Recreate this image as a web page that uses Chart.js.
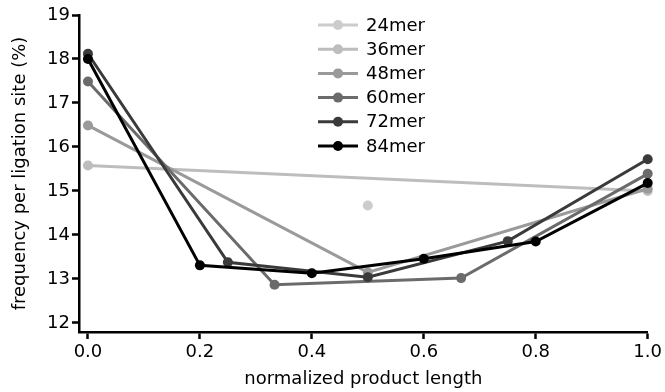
<!doctype html>
<html>

<head>
	<title>frequency per ligation site</title>
	<script src="https://cdn.jsdelivr.net/npm/chart.js@4"></script>
	<style>
		html, body { margin: 0; padding: 0; background: #fff; }
	</style>
</head>

<body>
	<canvas id="chart-area" width="665" height="392"></canvas>

	<script>
		// series
		var seriesNames = ['24mer', '36mer', '48mer', '60mer', '72mer', '84mer'];
		var seriesColors = ['#cccccc', '#bdbdbd', '#9a9a9a', '#6b6b6b', '#3a3a3a', '#000000'];
		var xs24 = [0.5];
		var ys24 = [14.67];
		var xs36 = [0, 1];
		var ys36 = [15.58, 15.0];
		var xs48 = [0, 0.5, 1];
		var ys48 = [16.49, 13.15, 15.05];
		var xs60 = [0, 1 / 3, 2 / 3, 1];
		var ys60 = [17.49, 12.87, 13.02, 15.39];
		var xs72 = [0, 0.25, 0.5, 0.75, 1];
		var ys72 = [18.12, 13.38, 13.04, 13.86, 15.72];
		var xs84 = [0, 0.2, 0.4, 0.6, 0.8, 1];
		var ys84 = [18.0, 13.31, 13.13, 13.46, 13.85, 15.18];
		var xTicks = [0, 0.2, 0.4, 0.6, 0.8, 1.0];
		var yTicks = [12, 13, 14, 15, 16, 17, 18, 19];

		var allX = [xs24, xs36, xs48, xs60, xs72, xs84];
		var allY = [ys24, ys36, ys48, ys60, ys72, ys84];

		var datasets = seriesNames.map(function(name, i) {
			return {
				label: name,
				data: allX[i].map(function(x, j) { return { x: x, y: allY[i][j] }; }),
				borderColor: seriesColors[i],
				backgroundColor: seriesColors[i],
				borderWidth: 3,
				pointRadius: 5,
				pointHoverRadius: 5,
				pointBorderWidth: 0,
				order: seriesNames.length - i,
				clip: false
			};
		});

		var fontFamily = '"DejaVu Sans", sans-serif';
		var font = { family: fontFamily, size: 18 };

		// legend drawn inside the plot area, line + dot samples
		var insideLegend = {
			id: 'insideLegend',
			afterDraw: function(chart) {
				var ctx = chart.ctx;
				ctx.save();
				ctx.font = '18px ' + fontFamily;
				ctx.textBaseline = 'middle';
				chart.data.datasets.forEach(function(ds, i) {
					var y = 25 + i * 24.2;
					ctx.strokeStyle = ds.borderColor;
					ctx.fillStyle = ds.borderColor;
					ctx.lineWidth = 3;
					ctx.beginPath();
					ctx.moveTo(318, y);
					ctx.lineTo(358, y);
					ctx.stroke();
					ctx.beginPath();
					ctx.arc(338, y, 5, 0, Math.PI * 2);
					ctx.fill();
					ctx.fillStyle = '#000';
					ctx.fillText(ds.label, 366, y + 1);
				});
				ctx.restore();
			}
		};

		var ctx = document.getElementById('chart-area').getContext('2d');
		window.myChart = new Chart(ctx, {
			type: 'line',
			data: { datasets: datasets },
			options: {
				responsive: false,
				animation: false,
				layout: { padding: { top: 15, right: 16, left: 10, bottom: 2 } },
				plugins: {
					legend: { display: false },
					tooltip: { enabled: false }
				},
				scales: {
					x: {
						type: 'linear',
						min: -0.016,
						max: 1.0,
						afterBuildTicks: function(axis) {
							axis.ticks = xTicks.map(function(v) { return { value: v }; });
						},
						afterFit: function(axis) { axis.height = 58; },
						border: { color: '#000', width: 2.5 },
						grid: { drawOnChartArea: false, tickLength: 7, tickColor: '#000', tickWidth: 2.5 },
						ticks: {
							color: '#000',
							font: font,
							padding: 3,
							maxRotation: 0,
							callback: function(v) { return v.toFixed(1); }
						},
						title: {
							display: true,
							text: 'normalized product length',
							color: '#000',
							font: font,
							padding: 0
						}
					},
					y: {
						type: 'linear',
						min: 11.795,
						max: 19,
						afterBuildTicks: function(axis) {
							axis.ticks = yTicks.map(function(v) { return { value: v }; });
						},
						afterFit: function(axis) { axis.width = 69; },
						border: { color: '#000', width: 2.5 },
						grid: { drawOnChartArea: false, tickLength: 7, tickColor: '#000', tickWidth: 2.5 },
						ticks: {
							color: '#000',
							font: font,
							padding: 2
						},
						title: {
							display: true,
							text: 'frequency per ligation site (%)',
							color: '#000',
							font: font,
							padding: 0
						}
					}
				}
			},
			plugins: [insideLegend]
		});
	</script>
</body>

</html>
